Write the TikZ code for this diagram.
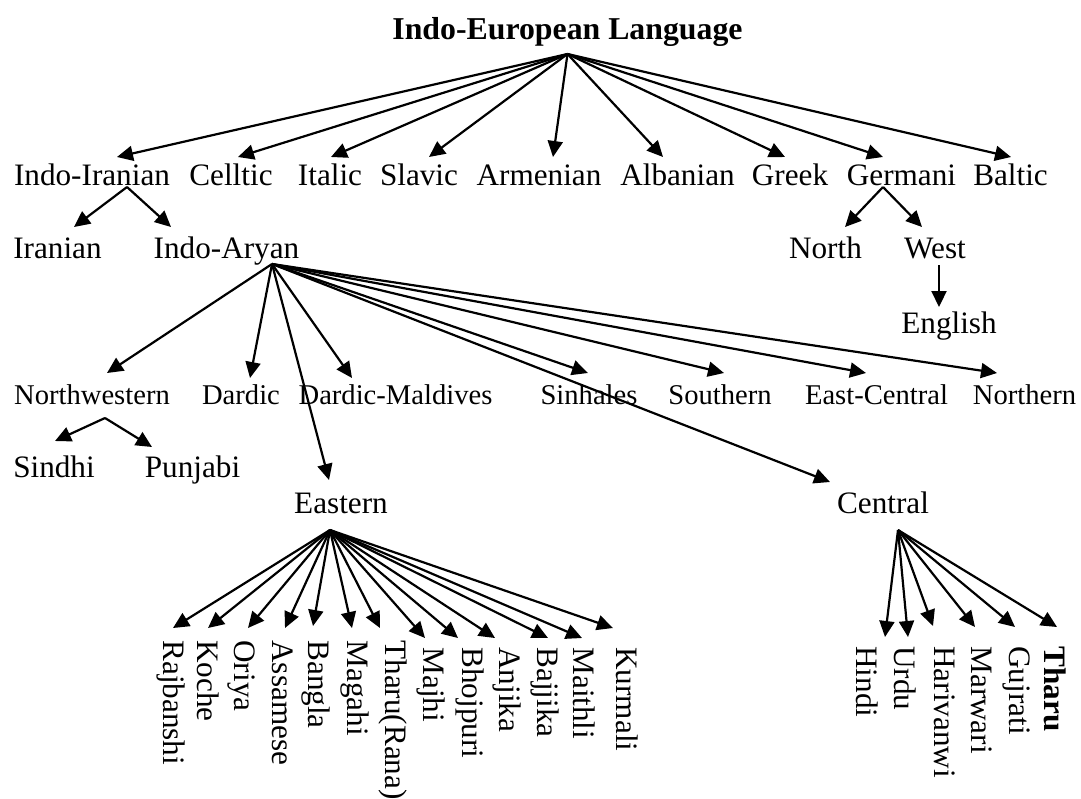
\documentclass[tikz,border=0pt]{standalone}
\usepackage{fontspec}
\setmainfont{Liberation Serif}
\usepackage{tikz}
\usetikzlibrary{arrows.meta,calc}

\tikzset{
  lang/.style={inner sep=0pt,anchor=base,font=\fontsize{15.6}{18}\selectfont},
  sublang/.style={lang,font=\fontsize{14.3}{17}\selectfont},
  leaf/.style={inner sep=0pt,rotate=-90,anchor=west,text height=10.8pt,text depth=3.4pt,font=\fontsize{15.6}{18}\selectfont},
  arr/.style={->,line width=1.1pt},
}

\begin{document}
\begin{tikzpicture}[x=0.5pt,y=-0.5pt,>={Triangle[length=8pt,width=7.5pt]}]
\useasboundingbox (0,0) rectangle (1081,798);

% Root
\node[lang,font=\fontsize{15.9}{18}\selectfont\bfseries] (ie) at (567.5,39) {Indo-European Language};

% Families
\foreach \n/\x/\t in {iir/92/Indo-Iranian,cel/231/Celltic,ita/330/Italic,sla/419/Slavic,
  arm/539/Armenian,alb/677.5/Albanian,gre/790/Greek,ger/901.5/Germani,bal/1010.5/Baltic}
  \node[lang] (\n) at (\x,185) {\t};
\foreach \n/\dx in {iir/25,cel/7,ita/1,sla/10,arm/14,alb/-14.5,gre/-5,ger/-18.5,bal/0.5}
  \draw[arr] ($(ie.base)+(0,15)$) -- ($(\n.base)+(\dx,-28)$);

% Indo-Iranian
\node[lang] (ira) at (57.5,258) {Iranian};
\node[lang] (iar) at (226.5,258) {Indo-Aryan};
\draw[arr] ($(iir.base)+(35,2)$) -- ($(ira.base)+(16.5,-31)$);
\draw[arr] ($(iir.base)+(35,2)$) -- ($(iar.base)+(-55.5,-31)$);

% Germani
\node[lang] (nth) at (825.5,258) {North};
\node[lang] (wst) at (935,258) {West};
\node[lang] (eng) at (949,333) {English};
\draw[arr] ($(ger.base)+(-18.5,2)$) -- ($(nth.base)+(19.5,-31)$);
\draw[arr] ($(ger.base)+(-18.5,2)$) -- ($(wst.base)+(-13,-31)$);
\draw[arr] ($(wst.base)+(4,7)$) -- ($(eng.base)+(-10,-26)$);

% Indo-Aryan
\foreach \n/\x/\t in {nwe/92/Northwestern,dar/241/Dardic,dmv/395.5/Dardic-Maldives,sin/589/Sinhales,
  sou/720/Southern,ecn/876.5/East-Central,nor/1024.5/Northern}
  \node[sublang] (\n) at (\x,404) {\t};
\node[lang] (eas) at (341,513) {Eastern};
\node[lang] (cen) at (883,513) {Central};
\foreach \n/\dx/\dy in {nwe/15/-31,dar/9/-26,dmv/-43.5/-26,sin/-1/-31,sou/4/-31,ecn/-10.5/-31,
  nor/-27.5/-31,eas/-12/-33,cen/-53/-31}
  \draw[arr] ($(iar.base)+(45.5,6)$) -- ($(\n.base)+(\dx,\dy)$);

% Northwestern
\node[lang] (sdh) at (54,477) {Sindhi};
\node[lang] (pun) at (192.5,477) {Punjabi};
\draw[arr] ($(nwe.base)+(13,14)$) -- ($(sdh.base)+(1,-36)$);
\draw[arr] ($(nwe.base)+(13,14)$) -- ($(pun.base)+(-40.5,-30)$);

% Eastern
\foreach \n/\x/\y/\t in {raj/171/640/Rajbanshi,koc/205/640/Koche,ori/241.5/640/Oriya,ass/280/640/Assamese,
  ban/316/640/Bangla,mag/355/640/Magahi,thr/393/640/{Tharu(Rana)},maj/431/647/Majhi,bho/470/647/Bhojpuri,
  anj/507/647/Anjika,baj/545/647/Bajjika,mai/581/647/Maithli,kur/624/647/Kurmali}
  \node[leaf] (\n) at (\x,\y) {\t};
\foreach \n/\dx/\dy in {raj/2/-12,koc/3/-12,ori/6.5/-12,ass/5/-12,ban/-3/-14,mag/-3/-12,thr/-13/-12,
  maj/-6/-9,bho/-12/-9,anj/-12/-9,baj/3/-9,mai/1/-9,kur/-11/-19}
  \draw[arr] ($(eas.base)+(-11,17)$) -- ($(\n.west)+(\dx,\dy)$);

% Central
\foreach \n/\x/\t in {hin/864/Hindi,urd/902/Urdu,har/942/Harivanwi,mar/979/Marwari,
  guj/1017/Gujrati,tha/1052/\textbf{Tharu}}
  \node[leaf] (\n) at (\x,646) {\t};
\foreach \n/\dx/\dy in {hin/21/-9,urd/6/-9,har/-9/-20,mar/-4/-19,guj/-2/-19,tha/5/-19}
  \draw[arr] ($(cen.base)+(15,17)$) -- ($(\n.west)+(\dx,\dy)$);
\end{tikzpicture}
\end{document}
